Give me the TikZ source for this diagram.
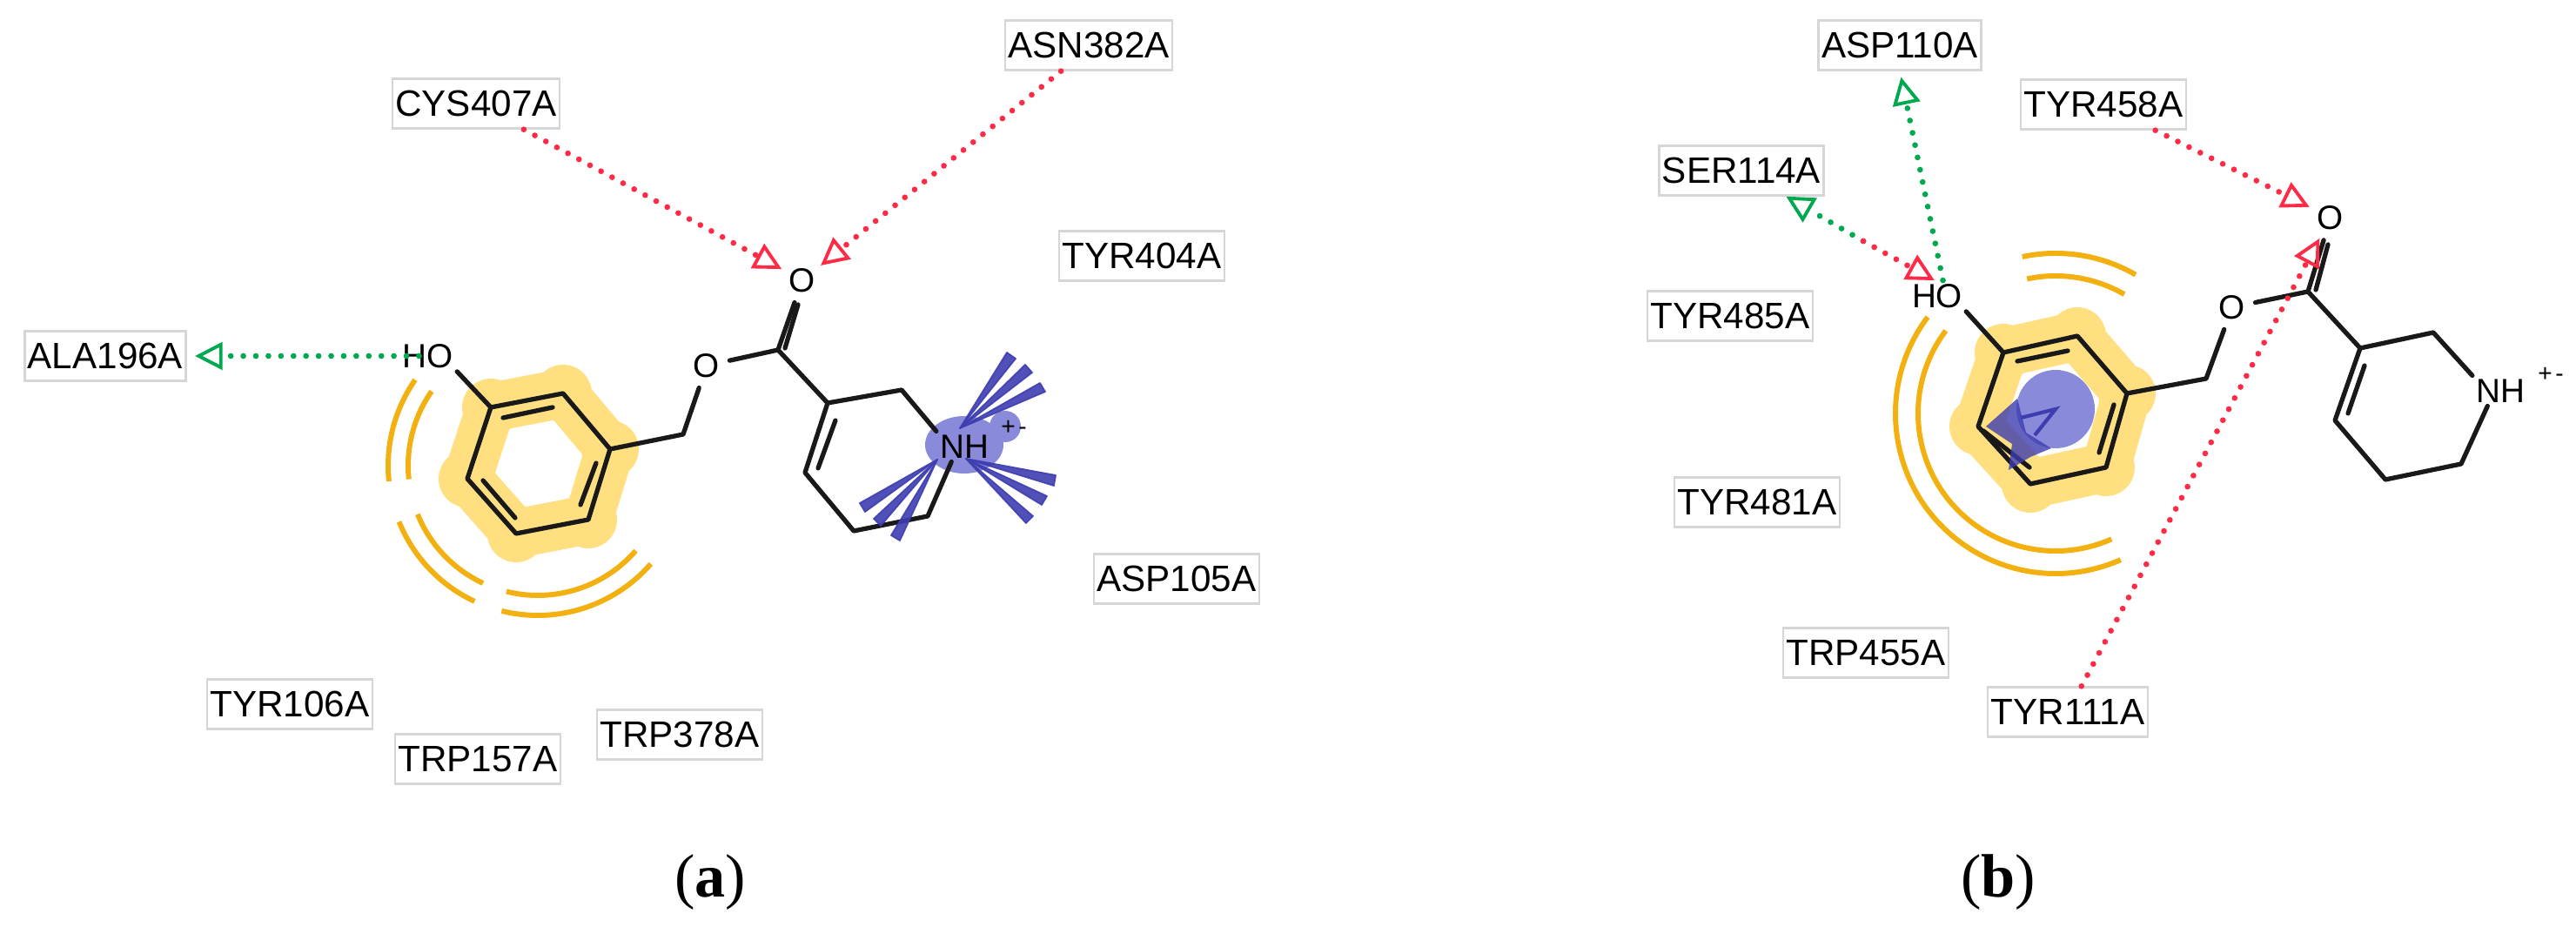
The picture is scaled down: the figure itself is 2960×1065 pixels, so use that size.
\documentclass[tikz,border=0pt]{standalone}
\usepackage{fontspec}
\setmainfont{Liberation Sans}
\newfontfamily\panelfont{Liberation Serif}
\usetikzlibrary{arrows.meta}
\definecolor{ringyellow}{HTML}{FFDF80}
\definecolor{arcorange}{HTML}{F2B110}
\definecolor{chargeblue}{HTML}{8A8ADB}
\definecolor{rayblue}{HTML}{3D3DB0}
\definecolor{hbondred}{HTML}{FF2A45}
\definecolor{hbondgreen}{HTML}{00A850}
\begin{document}
\begin{tikzpicture}[x=0.01cm, y=-0.01cm,
    residue/.style = {shape=rectangle, draw=black!16, line width=0.7pt, font=\fontsize{12}{12}\selectfont, minimum height=16.2pt, inner xsep=1pt, inner ysep=0pt},
    atom/.style = {shape=circle, inner sep=0pt, minimum size=15pt, font=\fontsize{11}{11}\selectfont},
    group/.style = {shape=rectangle, inner sep=1pt, font=\fontsize{11}{11}\selectfont},
    charge/.style = {inner sep=0pt, font=\fontsize{8}{8}\selectfont},
    panel/.style = {inner sep=0pt, font=\panelfont\fontsize{20}{20}\selectfont},
    bond/.style = {draw=black!90, line width=1.5pt, line cap=round, line join=round},
    hydro/.style = {draw=ringyellow, line width=16pt, line join=round},
    arcline/.style = {draw=arcorange, line width=1.7pt},
    ray/.style = {fill=rayblue, draw=rayblue, line width=0.5pt, line join=round, fill opacity=0.9, draw opacity=0.9},
    hbond/.style = {line width=1.9pt, line cap=round, dash pattern=on 0pt off 4.1pt},
    hbred/.style = {hbond, draw=hbondred, -{Triangle[open, length=9pt, width=9pt, line width=1.1pt]}},
    hbgreen/.style = {hbond, draw=hbondgreen, -{Triangle[open, length=9pt, width=9pt, line width=1.1pt]}}]
    \useasboundingbox (0,0) rectangle (2960,1065);

    \coordinate (ringa) at (618,535);
    \coordinate (ar1) at (564,468);
    \coordinate (ar2) at (647,452);
    \coordinate (ar3) at (701,516);
    \coordinate (ar4) at (676,597);
    \coordinate (ar5) at (593,613);
    \coordinate (ar6) at (537,550);
    \coordinate (ach) at (785,499);
    \coordinate (acc) at (894,402);
    \coordinate (an1) at (951,463);
    \coordinate (an2) at (1036,448);
    \coordinate (an5) at (1066,593);
    \coordinate (an6) at (981,610);
    \coordinate (an7) at (925,543);
    \coordinate (araya) at (1103,492);
    \coordinate (arayb) at (1110,527);
    \coordinate (arayc) at (1077,528);

    \coordinate (ringb) at (2362,475);
    \coordinate (br1) at (2302,405);
    \coordinate (br2) at (2387,386);
    \coordinate (br3) at (2444,452);
    \coordinate (br4) at (2420,537);
    \coordinate (br5) at (2333,556);
    \coordinate (br6) at (2273,490);
    \coordinate (bch) at (2535,435);
    \coordinate (bcc) at (2652,335);
    \coordinate (bn1) at (2712,400);
    \coordinate (bn2) at (2796,382);
    \coordinate (bn5) at (2828,533);
    \coordinate (bn6) at (2741,551);
    \coordinate (bn7) at (2683,483);
    \coordinate (serbreak) at (2141,277);

    \draw[hydro] (ar1) -- (ar2) -- (ar3) -- (ar4) -- (ar5) -- (ar6) -- cycle;
    \fill[ringyellow] (ar1) circle [radius=33] (ar2) circle [radius=33] (ar3) circle [radius=33] (ar4) circle [radius=33] (ar5) circle [radius=33] (ar6) circle [radius=33];
    \draw[hydro] (br1) -- (br2) -- (br3) -- (br4) -- (br5) -- (br6) -- cycle;
    \fill[ringyellow] (br1) circle [radius=33] (br2) circle [radius=33] (br3) circle [radius=33] (br4) circle [radius=33] (br5) circle [radius=33] (br6) circle [radius=33];

    \fill[chargeblue] (1108,511) ellipse [x radius=45, y radius=33];
    \fill[chargeblue] (1155,490) circle [radius=18];
    \fill[chargeblue] (2362,470) circle [radius=45];

    \draw[arcline] (ringa) ++(215:172) arc [start angle=215, end angle=174, radius=172];
    \draw[arcline] (ringa) ++(215:149) arc [start angle=215, end angle=174, radius=149];
    \draw[arcline] (ringa) ++(158:172) arc [start angle=158, end angle=115, radius=172];
    \draw[arcline] (ringa) ++(158:149) arc [start angle=158, end angle=115, radius=149];
    \draw[arcline] (ringa) ++(104:172) arc [start angle=104, end angle=41, radius=172];
    \draw[arcline] (ringa) ++(104:149) arc [start angle=104, end angle=41, radius=149];
    \draw[arcline] (ringb) ++(258:184) arc [start angle=258, end angle=300, radius=184];
    \draw[arcline] (ringb) ++(258:158) arc [start angle=258, end angle=300, radius=158];
    \draw[arcline] (ringb) ++(217:184) arc [start angle=217, end angle=66, radius=184];
    \draw[arcline] (ringb) ++(217:158) arc [start angle=217, end angle=66, radius=158];

    \node[residue] (asn382) at (1251,52) {ASN382A};
    \node[residue] (cys407) at (547,119) {CYS407A};
    \node[residue] (tyr404) at (1312,294) {TYR404A};
    \node[residue] (ala196) at (121,409) {ALA196A};
    \node[residue] (asp105) at (1352,665) {ASP105A};
    \node[residue] (tyr106) at (333,809) {TYR106A};
    \node[residue] (trp157) at (549,872) {TRP157A};
    \node[residue] (trp378) at (781,844) {TRP378A};
    \node[residue] (asp110) at (2183,52) {ASP110A};
    \node[residue] (tyr458) at (2417,120) {TYR458A};
    \node[residue] (ser114) at (2001,196) {SER114A};
    \node[residue] (tyr485) at (1988,363) {TYR485A};
    \node[residue] (tyr481) at (2019,577) {TYR481A};
    \node[residue] (trp455) at (2144,750) {TRP455A};
    \node[residue] (tyr111) at (2376,818) {TYR111A};

    \node[group] (hoa) at (492,409) {HO};
    \node[atom] (oea) at (812,420) {O};
    \node[atom] (oka) at (922,322) {O};
    \node[group] (nha) at (1108,513) {NH};
    \node[charge] (chargea) at (1165,491) {+\kern1pt-};
    \node[group] (hob) at (2226,340) {HO};
    \node[atom] (oeb) at (2565,353) {O};
    \node[atom] (okb) at (2678,250) {O};
    \node[group] (nhb) at (2873,449) {NH};
    \node[charge] (chargeb) at (2931,430) {+\kern1pt-};

    \node[panel] (panela) at (816,1014) {(\textbf{a})};
    \node[panel] (panelb) at (2296,1014) {(\textbf{b})};

    \draw[bond] (hoa.south east) -- (ar1) -- (ar2) -- (ar3) -- (ar4) -- (ar5) -- (ar6) -- (ar1);
    \draw[bond] (578,480) -- (635,468) (555,552) -- (592,595) (685,532) -- (667,580);
    \draw[bond] (ar3) -- (ach) -- (oea) -- (acc) -- (oka);
    \draw[bond] (902,400) -- (917,350);
    \draw[bond] (acc) -- (an1) -- (an2) -- (nha.north west);
    \draw[bond] (nha.-130) -- (an5) -- (an6) -- (an7) -- (an1);
    \draw[bond] (960,483) -- (940,538);

    \draw[bond] (hob.south east) -- (br1) -- (br2) -- (br3) -- (br4) -- (br5) -- (br6) -- (br1);
    \draw[bond] (2318,415) -- (2376,403) (2279,495) -- (2332,537) (2429,465) -- (2412,520);
    \draw[bond] (br3) -- (bch) -- (oeb) -- (bcc) -- (okb);
    \draw[bond] (2661,333) -- (2675,281);
    \draw[bond] (bcc) -- (bn1) -- (bn2) -- (nhb.north west);
    \draw[bond] (nhb.-130) -- (bn5) -- (bn6) -- (bn7) -- (bn1);
    \draw[bond] (2717,420) -- (2698,475);

    \filldraw[ray] (araya) -- (1157,405) -- (1167,412) -- cycle;
    \filldraw[ray] (araya) -- (1178,419) -- (1186,428) -- cycle;
    \filldraw[ray] (araya) -- (1195,440) -- (1201,450) -- cycle;
    \filldraw[ray] (arayb) -- (1213,546) -- (1211,558) -- cycle;
    \filldraw[ray] (arayb) -- (1203,570) -- (1197,580) -- cycle;
    \filldraw[ray] (arayb) -- (1187,593) -- (1179,601) -- cycle;
    \filldraw[ray] (arayc) -- (988,578) -- (994,588) -- cycle;
    \filldraw[ray] (arayc) -- (1004,596) -- (1012,604) -- cycle;
    \filldraw[ray] (arayc) -- (1024,615) -- (1034,621) -- cycle;
    \fill[rayblue, fill opacity=0.8] (2282,490) -- (2318,458) -- (2328,497) -- (2357,515) -- (2333,525) -- (2308,540) -- (2312,510) -- cycle;
    \draw[rayblue, line width=1.2pt] (2322,480) -- (2362,470) -- (2338,500);

    \draw[hbred] (cys407) -- (oka);
    \draw[hbred] (asn382.223) -- (oka);
    \draw[hbgreen, shorten <=3pt, shorten >=2.6pt] (hoa.center) -- (ala196.east);
    \draw[hbgreen, shorten >=2pt] (hob.70) -- (asp110.south);
    \draw[hbgreen] (serbreak) -- (ser114);
    \draw[hbred] (serbreak) -- (hob.100);
    \draw[hbred] (tyr458) -- (okb);
    \draw[hbred] (tyr111) -- (okb);
\end{tikzpicture}
\end{document}
